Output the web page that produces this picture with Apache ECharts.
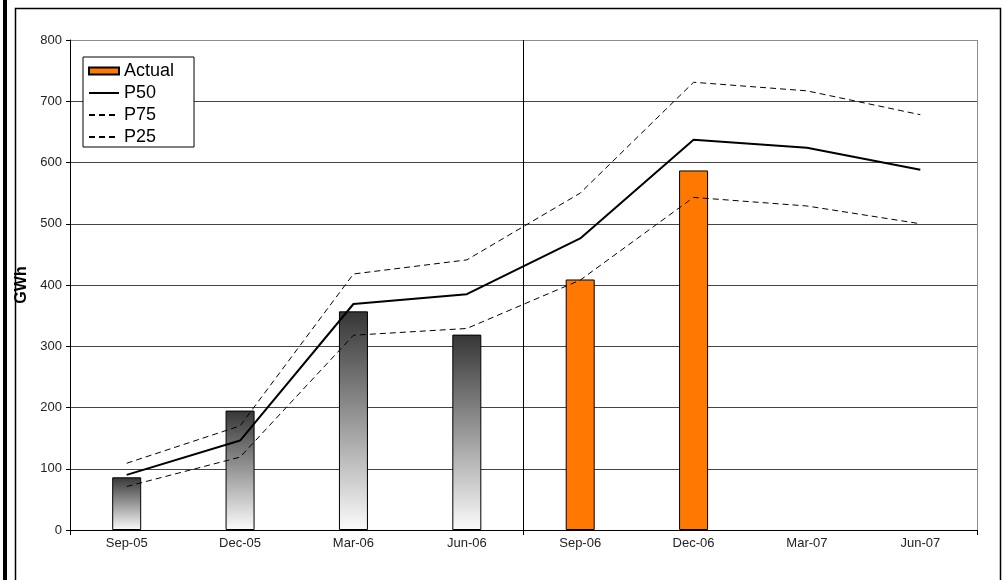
<!DOCTYPE html>
<html>
<head>
<meta charset="utf-8">
<script src="https://cdn.jsdelivr.net/npm/echarts@6/dist/echarts.min.js"></script>
<style>
  html, body { margin: 0; padding: 0; background: #fff; }
  #chart { width: 1002px; height: 580px; }
</style>
</head>
<body>
<div id="chart"></div>
<script>
// Quarterly generation, GWh
const categories = ['Sep-05', 'Dec-05', 'Mar-06', 'Jun-06', 'Sep-06', 'Dec-06', 'Mar-07', 'Jun-07'];
const actual = [86, 195, 357, 319, 409, 587, null, null];
const p50 = [90, 146, 369, 385, 476, 637, 624, 588];
const p75 = [109, 170, 418, 441, 550, 731, 717, 678];
const p25 = [71, 119, 318, 329, 408, 543, 529, 500];
const yTicks = [0, 100, 200, 300, 400, 500, 600, 700, 800];
// Quarters before this index are history (grey bars), after it the new period
const splitIndex = 4;

const FONT = 'Liberation Sans, Arial, sans-serif';
const ORANGE = '#ff7800';
const greyFill = {
  type: 'linear', x: 0, y: 0, x2: 0, y2: 1,
  colorStops: [{ offset: 0, color: '#363636' }, { offset: 1, color: '#fbfbfb' }]
};

const barData = actual.map((v, i) => ({
  value: v,
  itemStyle: { color: i < splitIndex ? greyFill : ORANGE }
}));

// legend entries for the lines show only the stroke, no marker
const lineLegend = name => ({ name, itemStyle: { opacity: 0 } });

const chart = echarts.init(document.getElementById('chart'), null, { renderer: 'canvas' });
chart.setOption({
  animation: false,
  backgroundColor: '#fff',
  textStyle: { fontFamily: FONT },
  grid: { left: 70, right: 25, top: 40, bottom: 50, containLabel: false },
  legend: {
    orient: 'vertical',
    left: 83, top: 57,
    padding: [5, 20, 1, 5],
    itemGap: 4,
    itemWidth: 30,
    itemHeight: 7,
    borderColor: '#000',
    borderWidth: 1,
    backgroundColor: '#fff',
    textStyle: { fontFamily: FONT, fontSize: 18, lineHeight: 18, color: '#000' },
    data: [
      { name: 'Actual', icon: 'rect' },
      lineLegend('P50'),
      lineLegend('P75'),
      lineLegend('P25')
    ]
  },
  xAxis: [
    {
      type: 'category',
      data: categories,
      boundaryGap: true,
      axisLine: { lineStyle: { color: '#000', width: 1 } },
      axisTick: { show: false },
      axisLabel: { color: '#222', fontSize: 13, fontFamily: FONT, margin: 7 },
      splitLine: { show: false }
    },
    {
      // period divider and boundary ticks, on a 0..8 quarter scale
      type: 'value',
      min: 0, max: categories.length, interval: splitIndex,
      position: 'bottom',
      axisLine: { show: false },
      axisTick: { show: true, length: 5, lineStyle: { color: '#000' } },
      axisLabel: { show: false },
      splitLine: { show: true, lineStyle: { color: ['#000', '#000', '#8a9088'], width: 1 } }
    }
  ],
  yAxis: {
    type: 'value',
    min: yTicks[0], max: yTicks[yTicks.length - 1], interval: 100,
    name: 'GWh',
    nameLocation: 'middle',
    nameRotate: 90,
    nameGap: 40,
    nameTextStyle: { fontFamily: FONT, fontWeight: 'bold', fontSize: 16, color: '#000' },
    axisLine: { show: true, lineStyle: { color: '#000', width: 1 } },
    axisTick: { show: true, length: 4, lineStyle: { color: '#000' } },
    axisLabel: { color: '#222', fontSize: 13, fontFamily: FONT, margin: 8 },
    splitLine: {
      show: true,
      lineStyle: { color: ['#000', '#444', '#444', '#444', '#444', '#444', '#444', '#444', '#8a9088'], width: 1 }
    }
  },
  series: [
    {
      name: 'Actual',
      type: 'bar',
      xAxisIndex: 0,
      barWidth: 29,
      data: barData,
      itemStyle: { color: ORANGE, borderColor: '#000', borderWidth: 1 }
    },
    {
      name: 'P50', type: 'line', xAxisIndex: 0, data: p50,
      symbol: 'none', showSymbol: false,
      lineStyle: { color: '#000', width: 2 },
      itemStyle: { color: '#000' }
    },
    {
      name: 'P75', type: 'line', xAxisIndex: 0, data: p75,
      symbol: 'none', showSymbol: false,
      lineStyle: { color: '#000', width: 1, type: [6, 4] },
      itemStyle: { color: '#000' }
    },
    {
      name: 'P25', type: 'line', xAxisIndex: 0, data: p25,
      symbol: 'none', showSymbol: false,
      lineStyle: { color: '#000', width: 1, type: [6, 4] },
      itemStyle: { color: '#000' }
    }
  ],
  graphic: [
    { type: 'rect', shape: { x: 3, y: 0, width: 4, height: 580 }, style: { fill: '#000' }, silent: true },
    { type: 'rect', shape: { x: 15.5, y: 8.5, width: 985, height: 620 },
      style: { fill: null, stroke: '#000', lineWidth: 1.5 }, silent: true }
  ]
});
</script>
</body>
</html>
